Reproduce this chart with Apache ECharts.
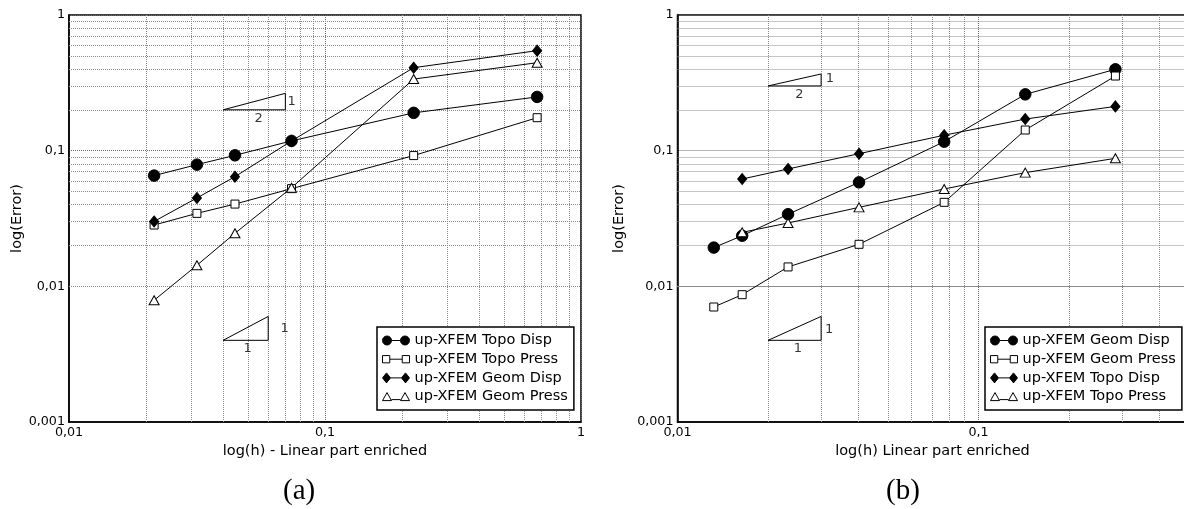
<!DOCTYPE html>
<html>
<head>
<meta charset="utf-8">
<script src="https://cdn.jsdelivr.net/npm/echarts@6/dist/echarts.min.js"></script>
<style>
html,body{margin:0;padding:0;background:#fff;}
#chart{width:1184px;height:509px;}
</style>
</head>
<body>
<div id="chart"></div>
<script>
// ---------- data: plot (a) ----------
const hA = [0.0215, 0.0316, 0.0445, 0.074, 0.222, 0.674];
const aTopoDisp  = [0.0655, 0.0789, 0.0924, 0.118, 0.190, 0.249];
const aTopoPress = [0.0283, 0.0345, 0.0404, 0.0525, 0.092, 0.175];
const aGeomDisp  = [0.0301, 0.0448, 0.0643, 0.118, 0.409, 0.546];
const aGeomPress = [0.00789, 0.0143, 0.0246, 0.0533, 0.337, 0.445];

// ---------- data: plot (b) ----------
const hB = [0.0132, 0.0164, 0.0233, 0.0401, 0.0769, 0.143, 0.285];
const bGeomDisp  = [0.0193, 0.0236, 0.034, 0.0584, 0.1165, 0.26, 0.398];
const bGeomPress = [0.00704, 0.00868, 0.0139, 0.0204, 0.0416, 0.142, 0.355];
const bTopoDisp  = [null, 0.0618, 0.0733, 0.095, 0.13, 0.171, 0.212];
const bTopoPress = [null, 0.025, 0.0293, 0.0382, 0.0522, 0.0689, 0.0878];

// ---------- slope triangles (data coordinates) ----------
const aSlope2 = [[0.04, 0.2], [0.07, 0.2], [0.07, 0.2646], [0.04, 0.2]];
const aSlope1 = [[0.04, 0.004], [0.06, 0.004], [0.06, 0.006], [0.04, 0.004]];
const bSlope2 = [[0.02, 0.3], [0.03, 0.3], [0.03, 0.3674], [0.02, 0.3]];
const bSlope1 = [[0.02, 0.004], [0.03, 0.004], [0.03, 0.006], [0.02, 0.004]];
const aSlopeLabels = [[0.074, 0.23, '1'], [0.0551, 0.171, '2'], [0.0695, 0.00485, '1'], [0.0499, 0.00347, '1']];
const bSlopeLabels = [[0.0321, 0.3375, '1'], [0.0254, 0.257, '2'], [0.0319, 0.00477, '1'], [0.0251, 0.00346, '1']];

// ---------- axes / grid ticks ----------
const xRange = [0.01, 1];
const yRange = [0.001, 1];
const xMinor = [0.02,0.03,0.04,0.05,0.06,0.07,0.08,0.09,0.2,0.3,0.4,0.5,0.6,0.7,0.8,0.9];
const yMinor = [0.002,0.003,0.004,0.005,0.006,0.007,0.008,0.009,0.02,0.03,0.04,0.05,0.06,0.07,0.08,0.09,0.2,0.3,0.4,0.5,0.6,0.7,0.8,0.9];

const legendA = ['up-XFEM Topo Disp', 'up-XFEM Topo Press', 'up-XFEM Geom Disp', 'up-XFEM Geom Press'];
const legendB = ['up-XFEM Geom Disp', 'up-XFEM Geom Press', 'up-XFEM Topo Disp', 'up-XFEM Topo Press'];
const xNameA = 'log(h) - Linear part enriched';
const xNameB = 'log(h) Linear part enriched';
const yName = 'log(Error)';

const FONT = 'DejaVu Sans';
const fmt = v => String(Number(Number(v).toPrecision(6))).replace('.', ',');

const markers = {
  circle:   {symbol: 'circle',   size: 11.5,    fill: '#000',
             icon: 'path://M0,5a4.5,4.5 0 1,0 9,0a4.5,4.5 0 1,0 -9,0z M9,5H18 M18,5a4.5,4.5 0 1,0 9,0a4.5,4.5 0 1,0 -9,0z'},
  square:   {symbol: 'rect',     size: 8,       fill: '#fff',
             icon: 'path://M0.5,1.5h7v7h-7z M7.5,5H19.5 M19.5,1.5h7v7h-7z'},
  diamond:  {symbol: 'diamond',  size: [9, 11], fill: '#000',
             icon: 'path://M4,0L8,5L4,10L0,5z M8,5H19 M23,0L27,5L23,10L19,5z'},
  triangle: {symbol: 'triangle', size: [10, 9], fill: '#fff',
             icon: 'path://M0,9L4.5,1L9,9z M9,8H18 M18,9L22.5,1L27,9z'}
};

function pairs(xs, ys) {
  const out = [];
  xs.forEach((x, i) => { if (ys[i] != null) out.push([x, ys[i]]); });
  return out;
}

function dataSeries(name, xs, ys, mk, gi) {
  const m = markers[mk];
  return {
    type: 'line', name: name, xAxisIndex: gi, yAxisIndex: gi,
    data: pairs(xs, ys),
    symbol: m.symbol, symbolSize: m.size, showAllSymbol: true,
    itemStyle: {color: m.fill, borderColor: '#000', borderWidth: 1},
    lineStyle: {color: '#000', width: 1},
    emphasis: {disabled: true}, z: 3
  };
}

function slopeSeries(pts, gi) {
  return {
    type: 'line', xAxisIndex: gi, yAxisIndex: gi, data: pts,
    symbol: 'none', lineStyle: {color: '#000', width: 1}, silent: true, z: 2
  };
}

function slopeLabelSeries(lbls, gi) {
  return {
    type: 'scatter', xAxisIndex: gi, yAxisIndex: gi,
    data: lbls.map(l => ({value: [l[0], l[1]], name: l[2]})),
    symbolSize: 0, silent: true,
    label: {show: true, position: 'inside', formatter: p => p.name,
            color: '#000', fontSize: 13, fontFamily: FONT}
  };
}

function gridSeries(gi) {
  return {
    type: 'line', xAxisIndex: gi, yAxisIndex: gi, data: [], silent: true,
    markLine: {
      silent: true, symbol: ['none', 'none'], label: {show: false}, animation: false, z: 1,
      lineStyle: {color: '#8a8a8a', type: [1, 1], width: 1},
      emphasis: {disabled: true},
      data: xMinor.map(v => ({xAxis: v})).concat(yMinor.map(v => ({yAxis: v})))
    }
  };
}

function xAxis(gi, name, pad) {
  return {
    type: 'log', logBase: 10, gridIndex: gi, min: xRange[0], max: xRange[1], interval: 1,
    name: name, nameLocation: 'middle', nameGap: 22,
    nameTextStyle: {fontFamily: FONT, fontSize: 14.5, color: '#000', padding: pad},
    axisLine: {show: true, lineStyle: {color: '#000', width: 1.5}},
    axisTick: {show: false},
    axisLabel: {formatter: fmt, fontFamily: FONT, fontSize: 12.7, color: '#000', margin: 4},
    splitLine: {show: true, lineStyle: {color: '#6a6a6a', type: [1, 1], width: 1}}
  };
}
function yAxis(gi) {
  return {
    type: 'log', logBase: 10, gridIndex: gi, min: yRange[0], max: yRange[1], interval: 1,
    name: yName, nameLocation: 'middle', nameGap: 40,
    nameTextStyle: {fontFamily: FONT, fontSize: 14.5, color: '#000'},
    axisLine: {show: true, lineStyle: {color: '#000', width: 1.5}},
    axisTick: {show: false},
    axisLabel: {formatter: fmt, fontFamily: FONT, fontSize: 12.7, color: '#000', margin: 4},
    splitLine: {show: true, lineStyle: {color: '#6a6a6a', type: [1, 1], width: 1}}
  };
}

function legend(names, mks, left) {
  return {
    orient: 'vertical', left: left, top: 327,
    padding: [5.5, 6, 5.5, 5], itemGap: 2.7, itemWidth: 27, itemHeight: 10,
    backgroundColor: '#fff', borderColor: '#000', borderWidth: 1.5, borderRadius: 0,
    selectedMode: false,
    textStyle: {fontFamily: FONT, fontSize: 14.5, color: '#000', lineHeight: 16},
    data: names.map((n, i) => ({
      name: n, icon: markers[mks[i]].icon,
      itemStyle: {color: markers[mks[i]].fill, borderColor: '#000', borderWidth: 1}
    }))
  };
}

const mkA = ['circle', 'square', 'diamond', 'triangle'];
const mkB = ['circle', 'square', 'diamond', 'triangle'];

const option = {
  animation: false,
  backgroundColor: '#fff',
  textStyle: {fontFamily: FONT},
  grid: [
    {left: 69, top: 15, width: 512, height: 407, outerBoundsMode: 'none', containLabel: false,
     show: true, borderColor: '#000', borderWidth: 1.5, backgroundColor: 'transparent'},
    {left: 677.5, top: 15, width: 602, height: 407, outerBoundsMode: 'none', containLabel: false,
     show: true, borderColor: '#000', borderWidth: 1.5, backgroundColor: 'transparent'}
  ],
  xAxis: [xAxis(0, xNameA, 0), xAxis(1, xNameB, [0, 92, 0, 0])],
  yAxis: [yAxis(0), yAxis(1)],
  legend: [legend(legendA, mkA, 377), legend(legendB, mkB, 985)],
  graphic: [
    {type: 'text', left: 300 - 17, top: 477, style: {text: '(a)', font: '29px "Liberation Serif"', fill: '#000'}},
    {type: 'text', left: 903 - 17, top: 477, style: {text: '(b)', font: '29px "Liberation Serif"', fill: '#000'}}
  ],
  series: [
    gridSeries(0), gridSeries(1),
    slopeSeries(aSlope2, 0), slopeSeries(aSlope1, 0),
    slopeSeries(bSlope2, 1), slopeSeries(bSlope1, 1),
    slopeLabelSeries(aSlopeLabels, 0), slopeLabelSeries(bSlopeLabels, 1),
    dataSeries(legendA[0], hA, aTopoDisp, 'circle', 0),
    dataSeries(legendA[1], hA, aTopoPress, 'square', 0),
    dataSeries(legendA[2], hA, aGeomDisp, 'diamond', 0),
    dataSeries(legendA[3], hA, aGeomPress, 'triangle', 0),
    dataSeries(legendB[0], hB, bGeomDisp, 'circle', 1),
    dataSeries(legendB[1], hB, bGeomPress, 'square', 1),
    dataSeries(legendB[2], hB, bTopoDisp, 'diamond', 1),
    dataSeries(legendB[3], hB, bTopoPress, 'triangle', 1)
  ]
};

const chart = echarts.init(document.getElementById('chart'), null, {renderer: 'canvas'});
chart.setOption(option);
</script>
</body>
</html>
